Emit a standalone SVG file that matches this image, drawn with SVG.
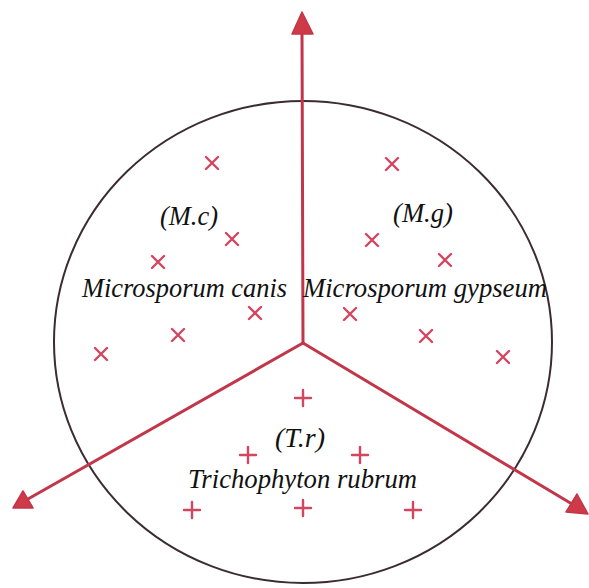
<svg xmlns="http://www.w3.org/2000/svg" width="589" height="588" viewBox="0 0 589 588">
<style>
.ring{fill:none;stroke:#3b2c33;stroke-width:2}
.axis{stroke:#c2364a;stroke-width:3;stroke-linecap:round;fill:none}
.head{fill:#cf3a48;stroke:#c2364a;stroke-width:1.5;stroke-linejoin:round}
.mk{stroke:#d44560;stroke-width:2.4;stroke-linecap:round;fill:none}
.lbl{font-family:'Liberation Serif','Times New Roman',serif;font-style:italic;font-size:28px;fill:#111}
</style>
<rect width="589" height="588" fill="#fff"/>
<ellipse class="ring" cx="303" cy="342" rx="249" ry="241"/>
<g id="connectors">
<line class="axis" x1="303" y1="343" x2="302" y2="32"/>
<polygon class="head" points="302,12 292,34 313,34"/>
<line class="axis" x1="303" y1="343" x2="28" y2="499"/>
<polygon class="head" points="13,508 23,491 33,508"/>
<line class="axis" x1="303" y1="343" x2="572" y2="504"/>
<polygon class="head" points="588,514 566,512 577,494"/>
</g>
<g id="mc">
<text class="lbl" x="160" y="225" textLength="58" lengthAdjust="spacingAndGlyphs">(M.c)</text>
<text class="lbl" x="82" y="297" textLength="205" lengthAdjust="spacingAndGlyphs">Microsporum canis</text>
<path class="mk" d="M206,157l12,12M218,157l-12,12 M226,233l12,12M238,233l-12,12 M152,256l12,12M164,256l-12,12 M249,307l12,12M261,307l-12,12 M172,329l12,12M184,329l-12,12 M95,348l12,12M107,348l-12,12"/>
</g>
<g id="mg">
<text class="lbl" x="393" y="222" textLength="60" lengthAdjust="spacingAndGlyphs">(M.g)</text>
<text class="lbl" x="303" y="297" textLength="244" lengthAdjust="spacingAndGlyphs">Microsporum gypseum</text>
<path class="mk" d="M386,158l12,12M398,158l-12,12 M366,234l12,12M378,234l-12,12 M439,254l12,12M451,254l-12,12 M344,308l12,12M356,308l-12,12 M420,330l12,12M432,330l-12,12 M497,351l12,12M509,351l-12,12"/>
</g>
<g id="tr">
<text class="lbl" x="275" y="447" textLength="50" lengthAdjust="spacingAndGlyphs">(T.r)</text>
<text class="lbl" x="188" y="488" textLength="229" lengthAdjust="spacingAndGlyphs">Trichophyton rubrum</text>
<path class="mk" d="M303,390v16M295,398h16 M248,447v16M240,455h16 M360,447v16M352,455h16 M192,502v16M184,510h16 M303,500v16M295,508h16 M413,502v16M405,510h16"/>
</g>
</svg>
